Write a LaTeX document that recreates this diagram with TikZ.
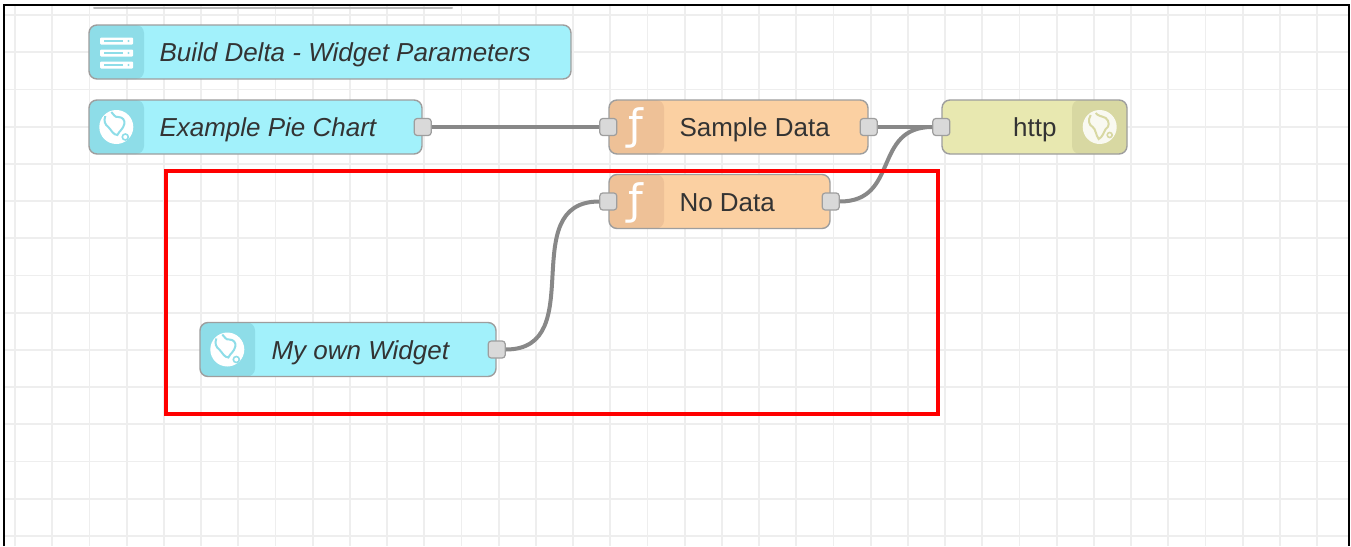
\documentclass[tikz,border=0pt]{standalone}
\usepackage{fontspec}
\setmainfont{Liberation Sans}
\newfontfamily\fsymfont{DejaVu Sans}
\usetikzlibrary{positioning}
\definecolor{wbody}{HTML}{A2F1FB}
\definecolor{wicon}{HTML}{8EDDE8}
\definecolor{fbody}{HTML}{FBD0A2}
\definecolor{ficoncol}{HTML}{EEC197}
\definecolor{hbody}{HTML}{E8E8B0}
\definecolor{hiconcol}{HTML}{D8D8A2}
\definecolor{nborder}{HTML}{9E9E9E}
\definecolor{portcol}{HTML}{D9D9D9}
\definecolor{wirecol}{HTML}{888888}
\definecolor{gridcol}{HTML}{EEEEEE}
\definecolor{txtcol}{HTML}{333333}
\definecolor{boxred}{HTML}{FF0000}

\tikzset{flow/.style = {shape = rectangle,
                        rounded corners = 8pt,
                        draw = nborder,
                        line width = 1.4pt,
                        minimum height = 54pt,
                        inner sep = 0pt},
         wnode/.style = {flow, fill = wbody,
                        path picture = {\fill[wicon] (path picture bounding box.north west) rectangle ([xshift=55pt]path picture bounding box.south west);}},
         fnode/.style = {flow, fill = fbody,
                        path picture = {\fill[ficoncol] (path picture bounding box.north west) rectangle ([xshift=55pt]path picture bounding box.south west);}},
         hnode/.style = {flow, fill = hbody,
                        path picture = {\fill[hiconcol] ([xshift=-55pt]path picture bounding box.north east) rectangle (path picture bounding box.south east);}},
         port/.style = {shape = rectangle,
                        rounded corners = 3pt,
                        draw = nborder,
                        fill = portcol,
                        line width = 1.2pt,
                        minimum size = 17pt,
                        inner sep = 0pt},
         lbl/.style = {inner sep = 0pt,
                       text = txtcol,
                       text height = 19pt,
                       text depth = 0pt,
                       font = \fontsize{26}{31}\selectfont},
         ilbl/.style = {lbl, font = \fontsize{26}{31}\selectfont\itshape},
         fsym/.style = {inner sep = 0pt,
                        text = white,
                        font = \fsymfont\fontsize{42}{42}\selectfont},
         wire/.style = {draw = wirecol, line width = 4pt},
         gridline/.style = {draw = gridcol, line width = 1.8pt}}

\begin{document}
\begin{tikzpicture}[x=1pt, y=-1pt]
		\useasboundingbox (0,0) rectangle (1351,546);
		\fill[white] (0,0) rectangle (1351,546);
		\foreach \i in {0,...,35}
			\draw[gridline] ({15+37.2*\i},5) -- ({15+37.2*\i},546);
		\foreach \i in {0,...,14}
			\draw[gridline] (4,{15+37.2*\i}) -- (1349,{15+37.2*\i});
		\draw[black, line width = 2.5pt] (4,546) -- (4,5) -- (1349,5) -- (1349,546);
		\draw[nborder!70, line width = 2pt, line cap = round] (94,8) -- (452,8);

		\node[wnode, minimum width = 482pt] (delta) at (330,52) {};
		\node[wnode, minimum width = 333pt] (pie) at (255.5,127) {};
		\node[fnode, minimum width = 259pt] (sd) at (738.5,127) {};
		\node[hnode, minimum width = 185pt] (http) at (1034.5,127) {};
		\node[fnode, minimum width = 221pt] (nd) at (719.5,201.5) {};
		\node[wnode, minimum width = 296pt] (own) at (348,349.5) {};

		\node[ilbl, right = 71pt of delta.west] (deltatxt) {Build Delta - Widget Parameters};
		\node[ilbl, right = 71pt of pie.west] (pietxt) {Example Pie Chart};
		\node[lbl, right = 71pt of sd.west] (sdtxt) {Sample Data};
		\node[lbl, left = 71pt of http.east] (httptxt) {http};
		\node[lbl, right = 71pt of nd.west] (ndtxt) {No Data};
		\node[ilbl, right = 72pt of own.west] (owntxt) {My own Widget};

		\node[fsym] (sdf) at ([xshift=28pt, yshift=-1pt]sd.west) {ƒ};
		\node[fsym] (ndf) at ([xshift=28pt, yshift=-1pt]nd.west) {ƒ};

		\foreach \b in {41,53,65} {
			\fill[white, rounded corners = 1pt] (100,\b-3.5) rectangle (133,\b+3.5);
			\draw[wicon, line width = 1.2pt] (104,\b) -- (123,\b);
			\fill[wicon] (128.5,\b) circle (1.2pt);
		}
		\foreach \c in {pie, own} {
			\begin{scope}[shift = {([xshift=28pt]\c.west)}]
				\fill[white] (0,0) circle (17pt);
				\draw[wicon, line width = 2pt] (-11,-11) .. controls (-13,-6) and (-11,-2) .. (-8,0) .. controls (-5,3) and (-3,8) .. (1,8) .. controls (3,4) and (7,2) .. (8,-3) .. controls (9,-7) and (6,-10) .. (2,-10) .. controls (-1,-9) and (-3,-13) .. (-5,-15);
				\draw[wicon, line width = 1.6pt] (9,10) circle (3pt);
			\end{scope}
		}
		\begin{scope}[shift = {([xshift=-28pt]http.east)}]
			\fill[white, opacity = 0.85] (0,0) circle (17pt);
			\draw[hiconcol, line width = 2pt] (-9,-12) .. controls (-12,-7) and (-11,-2) .. (-7,0) .. controls (-4,2) and (-4,8) .. (-1,12) .. controls (3,10) and (4,5) .. (6,2) .. controls (10,0) and (10,-6) .. (6,-9) .. controls (2,-11) and (-2,-11) .. (-4,-14);
			\draw[hiconcol, line width = 1.6pt] (10,8) circle (2.5pt);
		\end{scope}

		\node[port] (pieo) at (pie.east) {};
		\node[port] (sdi) at (sd.west) {};
		\node[port] (sdo) at (sd.east) {};
		\node[port] (hti) at (http.west) {};
		\node[port] (ndi) at (nd.west) {};
		\node[port] (ndo) at (nd.east) {};
		\node[port] (owno) at (own.east) {};

		\draw[wire] (pieo) -- (sdi);
		\draw[wire] (sdo) -- (hti);
		\draw[wire] (ndo.east) .. controls +(60,0) and +(-60,0) .. (hti.west);
		\draw[wire] (owno.east) .. controls +(85,0) and +(-85,0) .. (ndi.west);

		\draw[boxred, line width = 4.5pt] (166,171) rectangle (938,414);
	\end{tikzpicture}
\end{document}
